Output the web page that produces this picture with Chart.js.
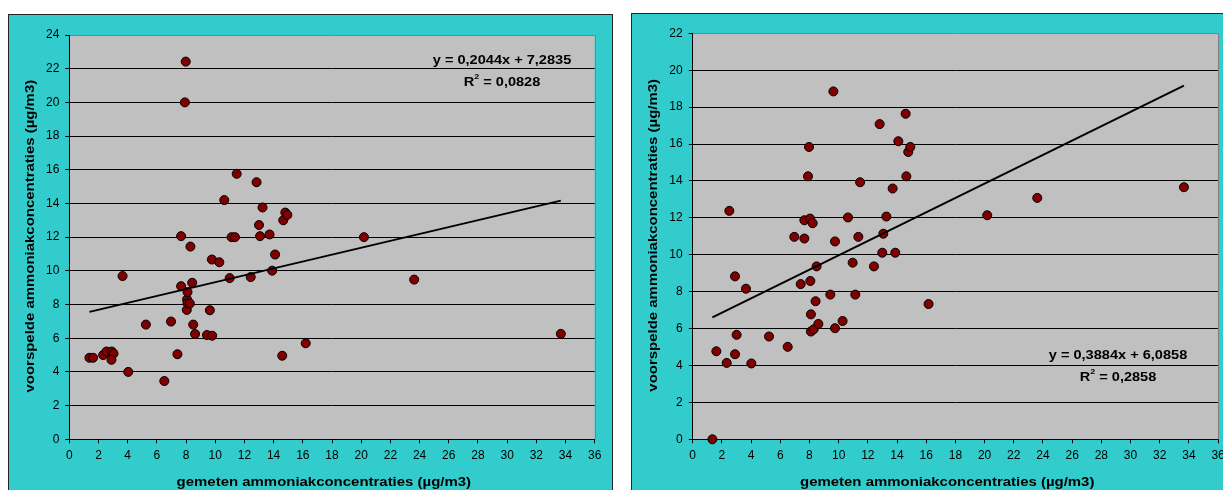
<!DOCTYPE html>
<html>
<head>
<meta charset="utf-8">
<script src="https://cdn.jsdelivr.net/npm/chart.js@4.4.0/dist/chart.umd.min.js"></script>
<style>
  html, body { margin: 0; padding: 0; background: #fff; width: 1223px; height: 490px; overflow: hidden; position: relative; }
  .panel { position: absolute; background: #33cccc; border: 1px solid #262626; box-sizing: border-box; }
  #panelLinks  { left: 8px;   top: 14px; width: 605px; height: 520px; }
  #panelRechts { left: 631px; top: 13px; width: 640px; height: 520px; }
  canvas { position: absolute; top: 0; }
  #chartLinks  { left: 0; }
  #chartRechts { left: 612px; }
</style>
</head>
<body>
<div class="panel" id="panelLinks"></div>
<div class="panel" id="panelRechts"></div>
<canvas id="chartLinks" width="612" height="490" style="width:612px;height:490px"></canvas>
<canvas id="chartRechts" width="640" height="490" style="width:640px;height:490px"></canvas>
<script>
// Gemeten ammoniakconcentraties (x) en voorspelde waarden (y), model links
const gemetenLinks = [1.38, 1.63, 2.32, 2.55, 2.91, 3.03, 2.89, 3.65, 4.04, 5.25, 6.51, 6.97, 7.41, 7.66, 7.66, 7.92, 7.98, 8.05, 8.07, 8.10, 8.10, 8.26, 8.30, 8.42, 8.49, 8.62, 9.43, 9.63, 9.77, 9.79, 10.28, 10.62, 10.99, 11.12, 11.35, 11.47, 12.43, 12.83, 13.00, 13.07, 13.24, 13.72, 13.90, 14.10, 14.59, 14.66, 14.80, 14.94, 16.20, 20.19, 23.63, 33.68];
const voorspeldLinks = [4.84, 4.84, 5.00, 5.21, 5.21, 5.09, 4.72, 9.69, 4.00, 6.81, 3.46, 6.99, 5.05, 12.06, 9.09, 20.00, 22.42, 7.68, 8.30, 8.74, 8.08, 8.06, 11.44, 9.29, 6.81, 6.25, 6.19, 7.66, 10.67, 6.15, 10.51, 14.20, 9.57, 12.00, 12.00, 15.76, 9.63, 15.26, 12.72, 12.06, 13.76, 12.16, 10.01, 10.97, 4.96, 13.00, 13.46, 13.32, 5.70, 12.00, 9.48, 6.26];

// Model rechts
const gemetenRechts = [1.35, 1.62, 2.33, 2.51, 2.90, 2.90, 3.01, 3.65, 4.02, 5.23, 6.51, 6.96, 7.40, 7.65, 7.65, 7.90, 7.97, 8.04, 8.06, 8.10, 8.10, 8.22, 8.29, 8.42, 8.49, 8.61, 9.43, 9.64, 9.75, 9.75, 10.27, 10.64, 10.96, 11.14, 11.35, 11.47, 12.42, 12.81, 12.99, 13.06, 13.27, 13.70, 13.88, 14.09, 14.59, 14.64, 14.77, 14.91, 16.16, 20.18, 23.61, 33.66];
const voorspeldRechts = [0.00, 4.77, 4.14, 12.38, 8.83, 4.61, 5.66, 8.16, 4.11, 5.57, 5.01, 10.97, 8.41, 10.88, 11.87, 14.25, 15.84, 11.96, 8.58, 6.77, 5.84, 11.71, 5.96, 7.48, 9.37, 6.25, 7.84, 18.85, 10.72, 6.02, 6.41, 12.02, 9.57, 7.84, 10.97, 13.93, 9.37, 17.08, 10.11, 11.14, 12.07, 13.59, 10.11, 16.15, 17.64, 14.25, 15.57, 15.84, 7.33, 12.14, 13.08, 13.66];

// Lineaire trendlijnen
const hellingLinks = 0.2044, interceptLinks = 7.2835, r2Links = 0.0828;
const hellingRechts = 0.3884, interceptRechts = 6.0858, r2Rechts = 0.2858;

const xAsTitel = 'gemeten ammoniakconcentraties (µg/m3)';
const yAsTitel = 'voorspelde ammoniakconcentraties (µg/m3)';

const FONT = "'Liberation Sans', Arial, Helvetica, sans-serif";
Chart.defaults.font.family = FONT;
Chart.defaults.font.size = 12;
Chart.defaults.color = '#000';

const nl = v => v.toFixed(4).replace('.', ',');

function stretchedText(ctx, text, cx, cy, font, sx, angle) {
  ctx.save();
  ctx.translate(cx, cy);
  ctx.rotate(angle || 0);
  ctx.scale(sx, 1);
  ctx.font = font;
  ctx.fillStyle = '#000';
  ctx.textAlign = 'center';
  ctx.textBaseline = 'middle';
  ctx.fillText(text, 0, 0);
  ctx.restore();
}

function r2Text(ctx, value, cx, cy, sx) {
  const big = 'bold 13px ' + FONT, small = 'bold 8px ' + FONT;
  const rest = ' = ' + nl(value);
  ctx.save();
  ctx.translate(cx, cy);
  ctx.scale(sx, 1);
  ctx.fillStyle = '#000';
  ctx.textBaseline = 'middle';
  ctx.textAlign = 'left';
  ctx.font = big; const wR = ctx.measureText('R').width; const wRest = ctx.measureText(rest).width;
  ctx.font = small; const w2 = ctx.measureText('2').width;
  const x0 = -(wR + w2 + wRest) / 2;
  ctx.font = big; ctx.fillText('R', x0, 0);
  ctx.font = small; ctx.fillText('2', x0 + wR, -5);
  ctx.font = big; ctx.fillText(rest, x0 + wR + w2, 0);
  ctx.restore();
}

const excelLook = {
  id: 'excelLook',
  beforeDraw(chart, args, o) {
    const { ctx, chartArea: a } = chart;
    ctx.save();
    ctx.fillStyle = '#c0c0c0';
    ctx.fillRect(a.left, a.top, a.right - a.left, a.bottom - a.top);
    ctx.restore();
  },
  afterDraw(chart, args, o) {
    const { ctx, chartArea: a } = chart;
    ctx.save();
    ctx.strokeStyle = '#808080';
    ctx.lineWidth = 1;
    ctx.beginPath();
    ctx.moveTo(Math.round(a.right) + 0.5, a.top);
    ctx.lineTo(Math.round(a.right) + 0.5, a.bottom);
    ctx.stroke();
    ctx.restore();
    // asstitels
    stretchedText(ctx, xAsTitel, a.left + 254.5, 482, 'bold 13px ' + FONT, 1.15, 0);
    stretchedText(ctx, yAsTitel, o.yTitleX, (a.top + a.bottom) / 2 - 1, 'bold 13px ' + FONT, 1.15, -Math.PI / 2);
    // vergelijking trendlijn
    const ex = a.left + o.eqDx, ey = a.top + o.eqDy;
    stretchedText(ctx, 'y = ' + nl(o.slope) + 'x + ' + nl(o.intercept), ex, ey, 'bold 13px ' + FONT, 1.12, 0);
    r2Text(ctx, o.r2, ex, ey + 22, 1.12);
  }
};

function maakGrafiek(id, xs, ys, slope, intercept, r2, yMax, area, canvasW, extra) {
  const punten = xs.map((x, i) => ({ x, y: ys[i] }));
  const xMin = Math.min(...xs), xMax = Math.max(...xs);
  const trend = [{ x: xMin, y: slope * xMin + intercept }, { x: xMax, y: slope * xMax + intercept }];
  return new Chart(document.getElementById(id), {
    type: 'scatter',
    data: {
      datasets: [
        { type: 'line', data: trend, borderColor: '#000', borderWidth: 2, pointRadius: 0, fill: false, tension: 0, clip: false },
        { data: punten, backgroundColor: '#800000', borderColor: '#000', borderWidth: 1, pointRadius: 4.5, clip: false }
      ]
    },
    options: {
      responsive: false,
      animation: false,
      events: [],
      layout: { padding: { left: 0, top: area.top, right: canvasW - area.right, bottom: 490 - area.bottom - 30 } },
      plugins: {
        legend: { display: false },
        tooltip: { enabled: false },
        excelLook: { yTitleX: extra.yTitleX, eqDx: extra.eqDx, eqDy: extra.eqDy, slope, intercept, r2 }
      },
      scales: {
        x: {
          type: 'linear', min: 0, max: 36,
          ticks: { stepSize: 2, autoSkip: false, maxRotation: 0, padding: 5, color: '#000', font: { size: 12 } },
          grid: { drawOnChartArea: false, drawTicks: true, tickLength: 4, tickColor: '#000' },
          border: { display: true, color: '#000', width: 1 },
          afterFit: s => { s.height = 30; }
        },
        y: {
          type: 'linear', min: 0, max: yMax,
          ticks: { stepSize: 2, padding: 6, color: '#000', font: { size: 12 } },
          grid: {
            drawTicks: true, tickLength: 4, tickColor: '#000', lineWidth: 1,
            color: c => (c.tick && c.tick.value === yMax ? '#808080' : '#000')
          },
          border: { display: true, color: '#000', width: 1 },
          afterFit: s => { s.width = area.left; }
        }
      }
    },
    plugins: [excelLook]
  });
}

maakGrafiek('chartLinks', gemetenLinks, voorspeldLinks, hellingLinks, interceptLinks, r2Links, 24,
  { left: 69.3, top: 35, right: 594.7, bottom: 439.3 }, 612,
  { yTitleX: 30.5, eqDx: 432.7, eqDy: 25 });

maakGrafiek('chartRechts', gemetenRechts, voorspeldRechts, hellingRechts, interceptRechts, r2Rechts, 22,
  { left: 80.7, top: 33.3, right: 606.1, bottom: 439.3 }, 640,
  { yTitleX: 41.5, eqDx: 425.3, eqDy: 321.7 });
</script>
</body>
</html>
